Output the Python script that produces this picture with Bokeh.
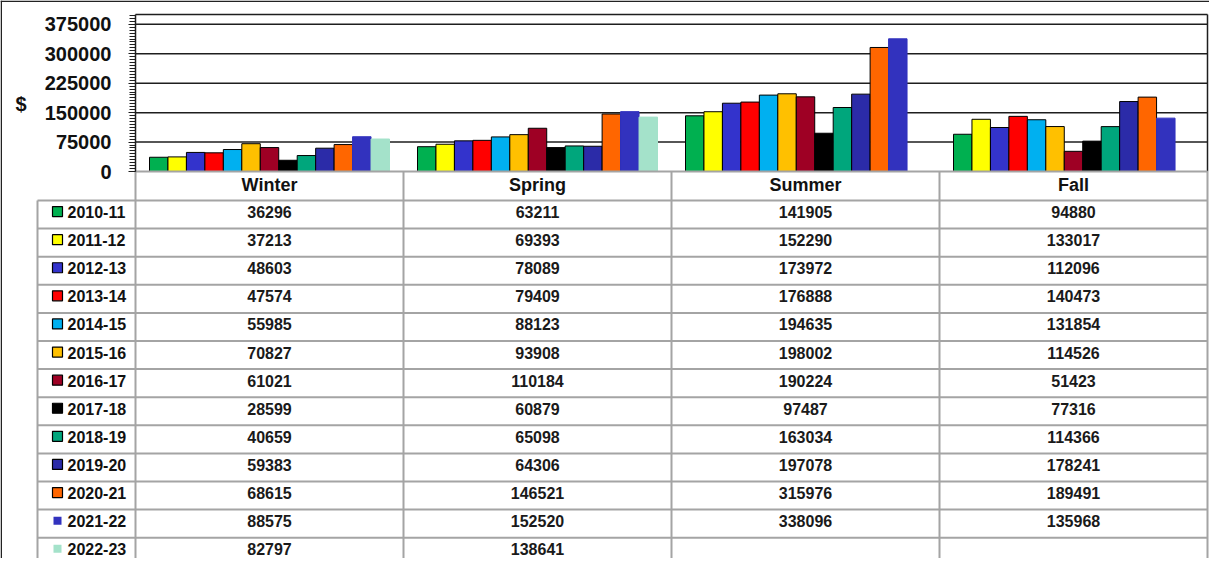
from bokeh.plotting import figure
from bokeh.models import Range1d, LinearAxis, FixedTicker, Label, ColumnDataSource, BasicTickFormatter
from bokeh.core.properties import value
from bokeh.embed import file_html
from bokeh.resources import INLINE

# ---------------- data ----------------
seasons = ["Winter", "Spring", "Summer", "Fall"]
years = ["2010-11", "2011-12", "2012-13", "2013-14", "2014-15", "2015-16", "2016-17",
         "2017-18", "2018-19", "2019-20", "2020-21", "2021-22", "2022-23"]
winter = [36296, 37213, 48603, 47574, 55985, 70827, 61021, 28599, 40659, 59383, 68615, 88575, 82797]
spring = [63211, 69393, 78089, 79409, 88123, 93908, 110184, 60879, 65098, 64306, 146521, 152520, 138641]
summer = [141905, 152290, 173972, 176888, 194635, 198002, 190224, 97487, 163034, 197078, 315976, 338096, None]
fall = [94880, 133017, 112096, 140473, 131854, 114526, 51423, 77316, 114366, 178241, 189491, 135968, None]
y_ticks = [0, 75000, 150000, 225000, 300000, 375000]
y_label = "$"

colors = ["#00B050", "#FFFF00", "#3333CC", "#FF0000", "#00B0F0", "#FFC000", "#9E0024",
          "#000000", "#00A67C", "#2B2BA8", "#FF6600", "#3232BE", "#A4E2CA"]
outlined = [True] * 11 + [False, False]

series = [winter, spring, summer, fall]

# ---------------- layout constants (pixels on canvas) ----------------
W, H = 1209, 558
CAT = 268.0         # px per category column
AX_X = 135.0        # x of value axis
TOP_PX = 14.0       # top of plot area
ZERO_PX = 171.0     # y of value 0
Y_MAX = 400000
MINOR = 7500
HEAD = 29.0         # header row height
ROW = 28.1          # data row height
TXT_UP = 2.5        # text sits slightly above row centre
LEG_X = 37.0
GROUP_PAD = 14.0
GROUP_W = 240.0
FONT = "Liberation Sans"

ppv = (ZERO_PX - TOP_PX) / Y_MAX


def xd(px):
    return (px - AX_X) / CAT


def vd(py):
    return (ZERO_PX - py) / ppv


def td(py):
    # table range: measured in pixels below the value-0 line (negative downward)
    return ZERO_PX - py


def row_top(k):
    return -(HEAD + k * ROW)


def row_mid(k):
    return row_top(k) - ROW / 2 + TXT_UP


ncat = len(seasons)
nser = len(years)

p = figure(width=W, height=H, output_backend="svg", toolbar_location=None,
           x_axis_type=None, y_axis_type=None,
           x_range=Range1d(xd(0), xd(W)), y_range=Range1d(vd(H), vd(0)),
           min_border=0, min_border_left=0, min_border_right=0,
           min_border_top=0, min_border_bottom=0)
p.outline_line_color = None
p.background_fill_color = "white"
p.border_fill_color = "white"
p.xgrid.visible = False
p.ygrid.visible = False
p.extra_y_ranges = {"tbl": Range1d(td(H), td(0))}

# ---------------- gridlines and plot-area box ----------------
grid_vals = y_ticks[1:] + [Y_MAX]
p.segment(x0=[0] * len(grid_vals), x1=[ncat] * len(grid_vals), y0=grid_vals, y1=grid_vals,
          line_color="#1e1e1e", line_width=1.5)
p.segment(x0=[ncat], x1=[ncat], y0=[0], y1=[Y_MAX], line_color="#1e1e1e", line_width=1.5)

# ---------------- bars ----------------
bw = GROUP_W / nser / CAT
for j, yr in enumerate(years):
    xs, tops = [], []
    for i, s in enumerate(series):
        v = s[j]
        if v is None:
            continue
        xs.append(i + (GROUP_PAD + (j + 0.5) * GROUP_W / nser) / CAT)
        tops.append(v)
    src = ColumnDataSource(dict(x=xs, top=tops))
    p.vbar(x="x", top="top", bottom=0, width=bw, source=src,
           fill_color=colors[j],
           line_color="black" if outlined[j] else colors[j],
           line_width=1)

# ---------------- table grid ----------------
TBL_LINE = "#a4a4a4"
p.segment(x0=[0], x1=[ncat], y0=[0], y1=[0], line_color=TBL_LINE, line_width=2, y_range_name="tbl")
hy = [row_top(k) for k in range(nser + 1)]
p.segment(x0=[xd(LEG_X)] * len(hy), x1=[ncat] * len(hy), y0=hy, y1=hy,
          line_color=TBL_LINE, line_width=2, y_range_name="tbl")
vx = list(range(ncat + 1))
p.segment(x0=vx, x1=vx, y0=[0] * len(vx), y1=[td(H)] * len(vx),
          line_color=TBL_LINE, line_width=2, y_range_name="tbl")
p.segment(x0=[xd(LEG_X)], x1=[xd(LEG_X)], y0=[row_top(0)], y1=[td(H)],
          line_color=TBL_LINE, line_width=2, y_range_name="tbl")

# header labels
p.text(x=[i + 0.5 for i in range(ncat)], y=[-HEAD / 2 + 1] * ncat, text=seasons,
       text_font=value(FONT), text_font_style="bold", text_font_size="18px",
       text_align="center", text_baseline="middle", text_color="#111111", y_range_name="tbl")

# values
tx, ty, tt = [], [], []
for i, s in enumerate(series):
    for k, v in enumerate(s):
        if v is None:
            continue
        tx.append(i + 0.5)
        ty.append(row_mid(k))
        tt.append(str(v))
p.text(x=tx, y=ty, text=tt, text_font=value(FONT), text_font_style="bold",
       text_font_size="16px", text_align="center", text_baseline="middle",
       text_color="#1a1a1a", y_range_name="tbl")

# legend keys and labels
for k, yr in enumerate(years):
    p.scatter(x=[xd(57)], y=[row_mid(k) + 0.5], marker="square",
              size=10 if outlined[k] else 8,
              fill_color=colors[k], line_color="black" if outlined[k] else None,
              line_width=1.2, y_range_name="tbl")
p.text(x=[xd(67)] * nser, y=[row_mid(k) for k in range(nser)], text=years,
       text_font=value(FONT), text_font_style="bold", text_font_size="16px",
       text_align="left", text_baseline="middle", text_color="#111111", y_range_name="tbl")

# ---------------- value axis ----------------
ax = LinearAxis(fixed_location=0, bounds=(0, Y_MAX),
                ticker=FixedTicker(ticks=y_ticks, minor_ticks=list(range(0, Y_MAX, MINOR))),
                formatter=BasicTickFormatter(use_scientific=False))
ax.axis_line_color = "#1e1e1e"
ax.axis_line_width = 1.5
ax.major_tick_in = 0
ax.major_tick_out = 7
ax.minor_tick_in = 0
ax.minor_tick_out = 6
ax.major_tick_line_color = "#1e1e1e"
ax.minor_tick_line_color = "#1e1e1e"
ax.major_label_text_font = FONT
ax.major_label_text_font_style = "bold"
ax.major_label_text_font_size = "20px"
ax.major_label_text_color = "#111111"
ax.major_label_standoff = 17
p.add_layout(ax, "left")

p.add_layout(Label(x=xd(15), y=vd(103), text=y_label, text_font=FONT,
                   text_font_style="bold", text_font_size="20px",
                   text_baseline="middle", text_color="#111111"))

# ---------------- outer border (top + left) ----------------
p.segment(x0=[xd(0)], x1=[xd(W)], y0=[vd(0.75)], y1=[vd(0.75)], line_color="#222222", line_width=1.5)
p.segment(x0=[xd(0.75)], x1=[xd(0.75)], y0=[vd(0)], y1=[vd(H)], line_color="#222222", line_width=1.5)

open("out.html", "w").write(file_html(p, INLINE))
